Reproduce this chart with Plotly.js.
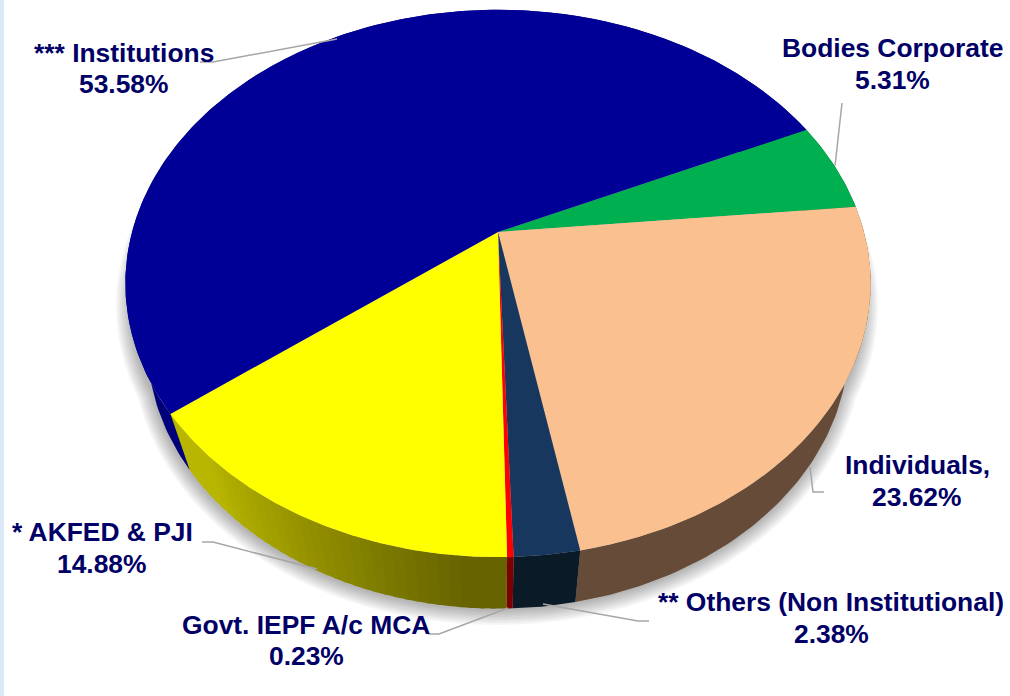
<!DOCTYPE html>
<html>
<head>
<meta charset="utf-8">
<script src="https://cdn.plot.ly/plotly-3.0.1.min.js"></script>
<style>html,body{margin:0;padding:0;background:#fff;overflow:hidden}#chart{width:1010px;height:696px}</style>
</head>
<body>
<div id="chart"></div>
<script>
// ---- chart values, clockwise from the start angle ----
const categories = ['Bodies Corporate', 'Individuals,', '** Others (Non Institutional)', 'Govt. IEPF A/c MCA', '* AKFED & PJI', '*** Institutions'];
const shares = [5.31, 23.62, 2.38, 0.23, 14.88, 53.58];
const topColors = ['#00B050', '#FBC08F', '#17375E', '#FF0000', '#FFFF00', '#000096'];
const wallLight = ['#006030', '#664C38', '#0A1A26', '#7B0000', '#B8B600', '#00007A'];
const wallDark  = ['#006030', '#664C38', '#0A1A26', '#7B0000', '#666300', '#00007A'];

// ---- label placement and leader lines (pixels) ----
const labelX = [892, 917, 831, 306, 102, 124];
const labelY1 = [48, 465, 602, 625, 532, 53];
const labelY2 = [80, 497, 634, 656, 564, 84];
const leaderPaths = [
  'M842,103 L835,166',
  'M810,467 L813,492 L824,492',
  'M543,604 L638,621 L649,621',
  'M508,608 L439,634 L428,634',
  'M202,542 L213,542 L317,569',
  'M200,62 L213,62 L337,39'
];

// ---- tilted disc geometry ----
const startAngle = 65.3, cx = 498, apexY = 232, kPersp = 0.188, sx = 366, sy = 264;
const topCy = 283.5, topA = 373, topB = 273, botCy = 344, botA = 351, botB = 264;
const rad = d => d * Math.PI / 180;
function topPt(deg) {
  const X = Math.sin(rad(deg)), Y = Math.cos(rad(deg)), w = 1 + kPersp * Y;
  return [cx + sx * X / w, apexY - sy * Y / w];
}
function botPt(deg) {
  const p = topPt(deg);
  return [cx + (p[0] - cx) * botA / topA, botCy + (p[1] - topCy) * botB / topB];
}
function hex2(c) { return [1, 3, 5].map(i => parseInt(c.substr(i, 2), 16)); }
function mix(a, b, t) {
  const A = hex2(a), B = hex2(b);
  return 'rgb(' + A.map((v, i) => Math.round(v + (B[i] - v) * t)).join(',') + ')';
}
function poly(pts, fill, w) {
  return { type: 'scatter', mode: 'lines', x: pts.map(p => p[0]), y: pts.map(p => p[1]), fill: 'toself',
    fillcolor: fill, line: { color: fill, width: w || 0 }, hoverinfo: 'skip', showlegend: false };
}

const traces = [];
// soft drop shadow: only the lower part of the disc throws one
for (let k = 14; k >= 0; k -= 2) {
  const xs = [], ys = [];
  [[topCy + 22, topA - 6, topB - 10], [botCy + 3, botA, botB]].forEach(e => {
    for (let a = 0; a <= 360; a += 3) {
      xs.push(cx - 1 + (e[1] + k) * Math.sin(rad(a)));
      ys.push(e[0] + (e[2] + k) * Math.cos(rad(a)));
    }
    xs.push(null); ys.push(null);
  });
  traces.push({ type: 'scatter', mode: 'lines', x: xs, y: ys, fill: 'toself', fillcolor: 'rgba(0,0,0,0.04)',
    line: { width: 0 }, hoverinfo: 'skip', showlegend: false });
}

// slice angle ranges from the values
const total = shares.reduce((a, b) => a + b, 0);
let acc = startAngle;
const ranges = shares.map(v => { const s = acc; acc += v / total * 360; return [s, acc]; });

// side walls: one polygon when flat, narrow bands when shaded
ranges.forEach((r, i) => {
  if (wallLight[i] === wallDark[i]) {
    const up = [], down = [], n = Math.max(2, Math.ceil(r[1] - r[0]));
    for (let j = 0; j <= n; j++) {
      const a = r[0] + (r[1] - r[0]) * j / n;
      up.push(topPt(a)); down.unshift(botPt(a));
    }
    traces.push(poly(up.concat(down, [up[0]]), wallDark[i], 0));
    return;
  }
  const n = Math.ceil((r[1] - r[0]) / 1.5);
  for (let j = 0; j < n; j++) {
    const a0 = r[0] + (r[1] - r[0]) * j / n, a1 = r[0] + (r[1] - r[0]) * (j + 1) / n;
    const mid = (j + 0.5) / n, t = Math.min(1, Math.max(0, (mid - 0.1) * 1.35));
    const col = mix(wallDark[i], wallLight[i], t);
    traces.push(poly([topPt(a0), topPt(a1 + 0.6), botPt(a1 + 0.6), botPt(a0), topPt(a0)], col, 0));
  }
});

// top faces
ranges.forEach((r, i) => {
  const pts = [[cx, apexY]];
  const n = Math.max(2, Math.ceil((r[1] - r[0]) * 2));
  for (let j = 0; j <= n; j++) pts.push(topPt(r[0] + (r[1] - r[0]) * j / n));
  pts.push([cx, apexY]);
  traces.push(poly(pts, topColors[i], 0));
});

const font = { family: 'Liberation Sans, Arial, sans-serif', size: 26.4, color: '#000066' };
const annotations = [];
categories.forEach((c, i) => {
  [[c.replace('&', '&amp;'), labelY1[i]], [shares[i].toFixed(2) + '%', labelY2[i]]].forEach(l => {
    annotations.push({ x: labelX[i], y: l[1], xref: 'x', yref: 'y', showarrow: false, xanchor: 'center', yanchor: 'middle',
      text: '<b>' + l[0] + '</b>', font });
  });
});

const shapes = leaderPaths.map(p => ({ type: 'path', path: p, xref: 'x', yref: 'y', line: { color: '#A6A6A6', width: 1.5 } }));
shapes.push({ type: 'rect', xref: 'paper', yref: 'paper', x0: 0, x1: 4 / 1010, y0: 0, y1: 1, fillcolor: '#DBE8F8', line: { width: 0 } });

Plotly.newPlot('chart', traces, {
  width: 1010, height: 696, margin: { l: 0, r: 0, t: 0, b: 0 },
  paper_bgcolor: '#fff', plot_bgcolor: '#fff', showlegend: false,
  xaxis: { range: [0, 1010], visible: false, fixedrange: true },
  yaxis: { range: [696, 0], visible: false, fixedrange: true },
  annotations, shapes
}, { displayModeBar: false, staticPlot: true });
</script>
</body>
</html>
